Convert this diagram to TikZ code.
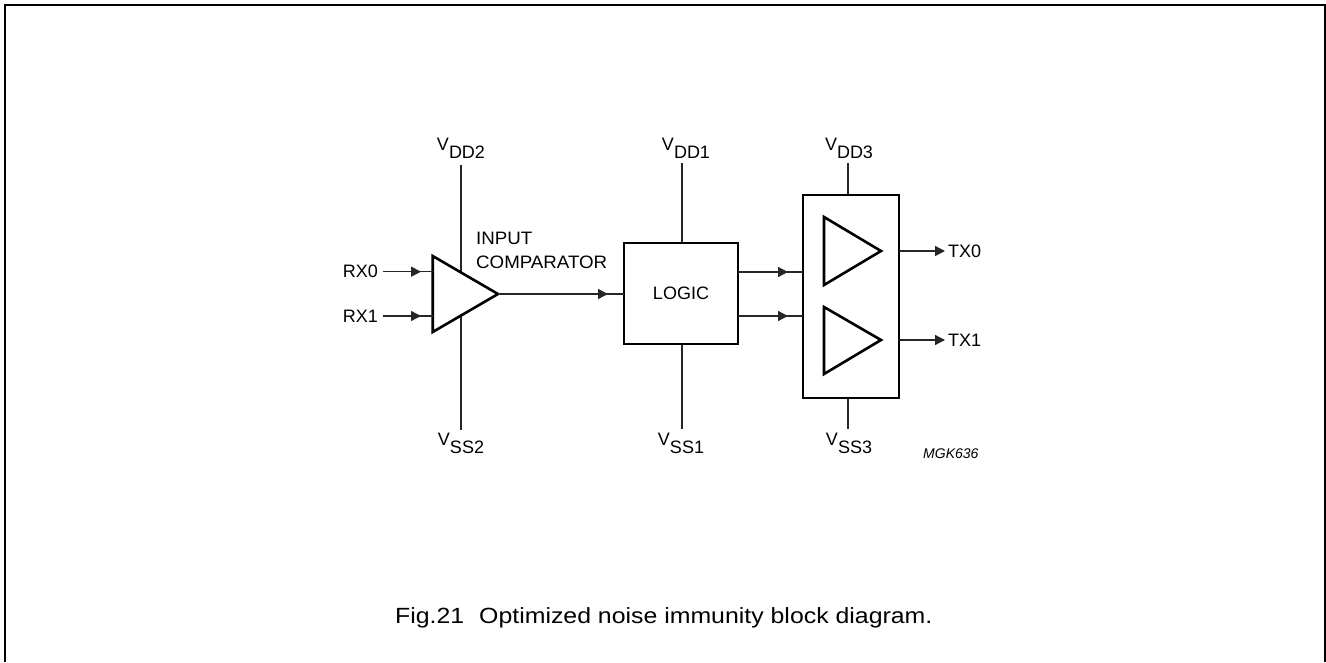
\documentclass[tikz,border=0pt]{standalone}
\usepackage{fontspec}
\setmainfont{Liberation Sans}
\usetikzlibrary{arrows.meta}
\tikzset{
  thin line/.style={line width=1.3pt, draw=black!85},
  thick box/.style={line width=2.6pt, draw=black},
  tip/.style={-{Triangle[length=10pt,width=10pt]}},
  lbl/.style={font=\fontsize{18}{24}\selectfont, inner sep=0pt},
  vlbl/.style={font=\fontsize{18}{24}\selectfont, inner sep=0pt, anchor=base},
}
\newcommand{\supl}[2]{#1\raisebox{-8pt}{#2}}
\begin{document}
\begin{tikzpicture}[x=1pt,y=-1pt]
\useasboundingbox (0,0) rectangle (1326,662);
% frame
\draw[line width=2pt] (5,662) -- (5,5) -- (1324.5,5) -- (1324.5,662);

% supply lines
\coordinate (dd2) at (461,165); \coordinate (ss2) at (461,430);
\coordinate (dd1) at (682,163); \coordinate (ss1) at (682,429);
\coordinate (dd3) at (848,163); \coordinate (ss3) at (848,429);
\draw[thin line] (dd2) -- (ss2);
\draw[thin line] (dd1) -- (ss1);
\draw[thin line] (dd3) -- (ss3);

\node[vlbl] (vdd2) at (461,150) {\supl{V}{DD2}};
\node[vlbl] (vss2) at (461,445) {\supl{V}{SS2}};
\node[vlbl] (vdd1) at (686,150) {\supl{V}{DD1}};
\node[vlbl] (vss1) at (681,445) {\supl{V}{SS1}};
\node[vlbl] (vdd3) at (849,150) {\supl{V}{DD3}};
\node[vlbl] (vss3) at (849,445) {\supl{V}{SS3}};

% input comparator
\draw[thick box, fill=white, line join=miter] (432.7,256) coordinate (ct) -- (498,294) coordinate (cout) -- (432.7,332) coordinate (cb) -- cycle;
\node[lbl, anchor=east] (rx0) at (378,271.7) {RX0};
\node[lbl, anchor=east] (rx1) at (378,316) {RX1};
\coordinate (rx0s) at (383,271.7); \coordinate (rx1s) at (383,316);
\coordinate (rx0a) at (421,271.7); \coordinate (rx0e) at (432.7,271.7);
\coordinate (rx1a) at (421,316); \coordinate (rx1e) at (432.7,316);
\draw[thin line] (rx0s) -- (rx0e);
\draw[thin line, tip] (rx0s) -- (rx0a);
\draw[thin line] (rx1s) -- (rx1e);
\draw[thin line, tip] (rx1s) -- (rx1a);
\node[lbl, anchor=west, align=left] (ic) at (476,250) {\scalebox{1.04}[1]{INPUT}\\\scalebox{1.04}[1]{COMPARATOR}};

% logic
\draw[thick box, fill=white] (624,243) rectangle (738,344);
\node[lbl] (logic) at (681,293.5) {LOGIC};
\coordinate (la) at (608,294); \coordinate (le) at (624,294);
\draw[thin line] (cout) -- (le);
\draw[thin line, tip] (cout) -- (la);

% output stage
\draw[thick box, fill=white] (803,195) rectangle (899,398);
\draw[thick box, line join=miter] (824,217) -- (881,251) coordinate (t0) -- (824,285) -- cycle;
\draw[thick box, line join=miter] (824,307) -- (881,340) coordinate (t1) -- (824,374) -- cycle;
\coordinate (l0s) at (738,272); \coordinate (l0a) at (788,272); \coordinate (l0e) at (803,272);
\coordinate (l1s) at (738,316); \coordinate (l1a) at (788,316); \coordinate (l1e) at (803,316);
\draw[thin line] (l0s) -- (l0e); \draw[thin line, tip] (l0s) -- (l0a);
\draw[thin line] (l1s) -- (l1e); \draw[thin line, tip] (l1s) -- (l1a);
\node[lbl, anchor=west] (tx0) at (948,251) {TX0};
\node[lbl, anchor=west] (tx1) at (948,340) {TX1};
\coordinate (o0) at (899,251); \coordinate (o1) at (899,340);
\draw[thin line, tip, shorten >=3pt] (o0) -- (tx0.west);
\draw[thin line, tip, shorten >=3pt] (o1) -- (tx1.west);

\node[font=\fontsize{14}{16}\selectfont\itshape, inner sep=0pt, anchor=base west] (mgk) at (923,458) {MGK636};

\node[font=\fontsize{22}{26}\selectfont, inner sep=0pt, anchor=base west] (cap) at (395,623.3) {\scalebox{1.13}[1]{Fig.21\hspace{0.6em}Optimized noise immunity block diagram.}};
\end{tikzpicture}
\end{document}
